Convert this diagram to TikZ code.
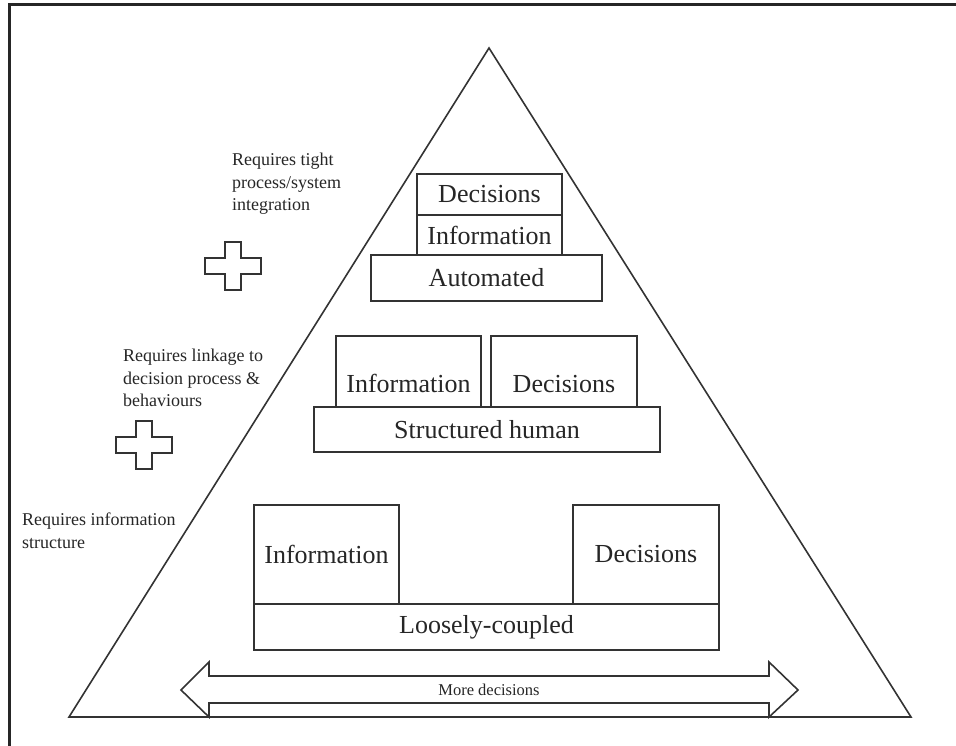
\documentclass[tikz,border=0pt]{standalone}
\usepackage{fontspec}
\setmainfont{Liberation Serif}
\usetikzlibrary{positioning, calc}
\tikzset{
    outline/.style={
        draw=black!80,
        line width=1.6pt,
        line join=miter
    },
    layerbox/.style={
        rectangle,
        draw=black!80,
        line width=1.6pt,
        inner sep=0pt,
        text=black!85,
        font=\fontsize{26}{31}\selectfont
    },
    boxtext/.style={
        inner sep=0pt,
        text=black!85,
        font=\fontsize{26}{31}\selectfont
    },
    sidenote/.style={
        align=left,
        anchor=north west,
        inner sep=0pt,
        text=black!85,
        font=\fontsize{18}{22.5}\selectfont
    }
}
\begin{document}
\begin{tikzpicture}[x=1pt, y=-1pt]

\useasboundingbox (0,0) rectangle (956,746);

%---------------- Frame and pyramid ----------------

\draw[draw=black!85, line width=3pt] (9,746) -- (9,5) -- (956,5);

\coordinate (apex) at (489,48);
\coordinate (baseL) at (69,717);
\coordinate (baseR) at (911,717);
\draw[outline] (apex) -- (baseR) -- (baseL) -- cycle;

%---------------- Automated ----------------

\node[layerbox, minimum width=145pt, minimum height=41pt] (topdec) at (489.5,194.5) {Decisions};
\node[layerbox, minimum width=145pt, minimum height=40pt] (topinfo) at (489.5,235) {Information};
\node[layerbox, minimum width=231pt, minimum height=46pt] (auto) at (486.5,278) {Automated};

%---------------- Structured human ----------------

\node[layerbox, minimum width=145pt, minimum height=71pt] (midinfo) at (408.5,371.5) {};
\node[layerbox, minimum width=146pt, minimum height=71pt] (middec) at (564,371.5) {};
\node[boxtext] at ([yshift=24pt]midinfo.south) {Information};
\node[boxtext] at ([yshift=24pt]middec.south) {Decisions};
\node[layerbox, minimum width=346pt, minimum height=45pt] (struct) at (487,429.5) {Structured human};

%---------------- Loosely-coupled ----------------

\node[layerbox, minimum width=145pt, minimum height=99pt] (lowinfo) at (326.5,554.5) {Information};
\node[layerbox, minimum width=146pt, minimum height=99pt] (lowdec) at (646,554.5) {Decisions};
\node[layerbox, minimum width=465pt, minimum height=46pt] (loose) at (486.5,627) {Loosely-coupled};

%---------------- More decisions arrow ----------------

\draw[outline] (181,690) -- (209,662) -- (209,676) -- (769,676) -- (769,662)
    -- (798,690) -- (769,717) -- (769,703) -- (209,703) -- (209,717) -- cycle;
\node[inner sep=0pt, text=black!85, font=\fontsize{16.5}{20}\selectfont] (more) at (489,690) {More decisions};

%---------------- Side notes ----------------

\node[sidenote] (tight) at (232,153) {Requires tight\\process/system\\integration};
\node[sidenote] (linkage) at (123,349) {Requires linkage to\\decision process \&\\behaviours};
\node[sidenote] (infostruct) at (22,513) {Requires information\\structure};

\foreach \cx/\cy in {233/266, 144/445}
    \draw[outline, shift={(\cx,\cy)}] (-8,-24) -- (8,-24) -- (8,-8) -- (28,-8) -- (28,8)
        -- (8,8) -- (8,24) -- (-8,24) -- (-8,8) -- (-28,8) -- (-28,-8) -- (-8,-8) -- cycle;

\end{tikzpicture}
\end{document}
